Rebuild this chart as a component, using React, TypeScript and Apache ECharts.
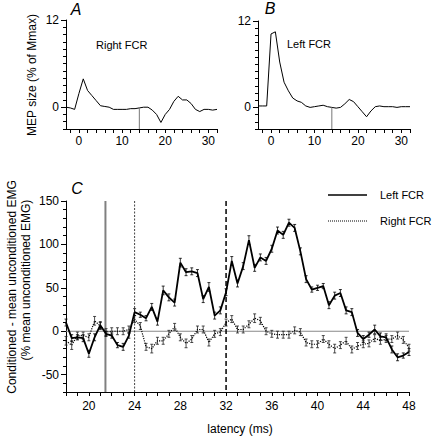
import React, { useEffect, useRef } from "react";
import * as echarts from "echarts";

// Panels A & B: MEP size (% of Mmax) vs latency (ms)
const mepLatency = [-3, -2, -1, 0, 1, 2, 3, 4, 5, 6, 7, 8, 9, 10, 11, 12, 13, 14, 15, 16, 17, 18, 19, 20, 21, 22, 23, 24, 25, 26, 27, 28, 29, 30, 31, 32];
const mepRightFCR = [0, -0.1, -0.3, 1.9, 3.9, 2.3, 1.6, 0.9, 0.2, 0.1, 0, -0.3, -0.3, -0.3, -0.3, -0.2, -0.2, -0.1, 0, 0, -0.4, -1.0, -2.1, -1.0, -0.3, 0.8, 1.5, 1.0, 1.0, 0.5, -0.3, -0.6, -0.3, -0.3, -0.4, -0.3];
const mepLeftFCR = [0.2, 0.2, 0.2, 10.2, 10.5, 6.3, 3.5, 2.3, 1.3, 0.9, 0.7, 0.2, 0, 0.1, 0.2, 0.3, 0.1, 0, -0.1, 0, 0.5, 1.1, 0.8, 0.1, -0.6, -1.3, -0.5, 0.1, 0.2, 0.1, 0.1, 0.1, 0, 0.1, 0.1, 0.1];
const mepMarker = 14;

// Panel C: conditioned - mean unconditioned EMG
const emgLatency = [18, 18.5, 19, 19.5, 20, 20.5, 21, 21.5, 22, 22.5, 23, 23.5, 24, 24.5, 25, 25.5, 26, 26.5, 27, 27.5, 28, 28.5, 29, 29.5, 30, 30.5, 31, 31.5, 32, 32.5, 33, 33.5, 34, 34.5, 35, 35.5, 36, 36.5, 37, 37.5, 38, 38.5, 39, 39.5, 40, 40.5, 41, 41.5, 42, 42.5, 43, 43.5, 44, 44.5, 45, 45.5, 46, 46.5, 47, 47.5, 48];
const emgLeftFCR = [10, -8, -7, -8, -26, -7, 7, -3, -5, -16, -18, -5, 22, 19, 15, 28, 11, 47, 39, 33, 79, 68, 69, 67, 37, 51, 18, 24, 45, 81, 55, 75, 105, 73, 85, 81, 95, 116, 111, 125, 119, 92, 60, 48, 50, 52, 30, 41, 44, 24, 22, -2, -9, -4, 2, -6, -7, -21, -30, -28, -24];
const emgLeftErr = [4, 4, 3, 4, 4, 4, 4, 3, 3, 3, 4, 3, 4, 3, 3, 4, 4, 5, 4, 4, 5, 4, 4, 4, 4, 5, 4, 4, 4, 5, 4, 4, 5, 4, 4, 4, 4, 4, 4, 4, 4, 4, 4, 3, 3, 3, 4, 4, 4, 4, 4, 4, 4, 3, 5, 4, 4, 4, 4, 3, 4];
const emgRightFCR = [-11, -16, -5, -5, -7, 12, 6, -1, 0, 0, 0, 2, 14, 6, -18, -20, -11, -11, -3, 5, -7, -14, -9, 2, 2, -13, -3, -1, 10, 14, 2, 2, 8, 15, 12, 0, -3, -4, -4, -4, 1, -1, -13, -15, -15, -9, -15, -20, -16, -11, -21, -17, -15, -14, -8, -11, -9, -9, -5, -10, -19];
const emgRightErr = [5, 5, 4, 4, 4, 5, 4, 4, 4, 4, 4, 4, 4, 4, 4, 5, 4, 4, 4, 4, 4, 5, 4, 4, 4, 4, 4, 4, 4, 4, 4, 4, 4, 5, 4, 4, 4, 4, 4, 4, 4, 4, 4, 4, 4, 4, 4, 5, 4, 4, 4, 4, 4, 4, 4, 4, 4, 4, 4, 4, 4];
const markerSolid = 21.45;
const markerDotted = 24;
const markerDashed = 32;

const mepXTicks = [-2, 0, 2, 4, 6, 8, 10, 12, 14, 16, 18, 20, 22, 24, 26, 28, 30, 32];
const mepXLabels = [0, 10, 20, 30];
const mepYTicks = [-3, -2, -1, 0, 1, 2, 3, 4, 5, 6, 7, 8, 9, 10, 11, 12];
const mepYLabels = [0, 12];
const emgXTicks = [18, 19, 20, 21, 22, 23, 24, 25, 26, 27, 28, 29, 30, 31, 32, 33, 34, 35, 36, 37, 38, 39, 40, 41, 42, 43, 44, 45, 46, 47, 48];
const emgXLabels = [20, 24, 28, 32, 36, 40, 44, 48];
const emgYTicks = [-70, -60, -50, -40, -30, -20, -10, 0, 10, 20, 30, 40, 50, 60, 70, 80, 90, 100, 110, 120, 130, 140, 150];
const emgYLabels = [-50, 0, 50, 100, 150];

const FONT = "'Liberation Sans', Arial, Helvetica, sans-serif";

export default function App() {
  const ref = useRef<HTMLDivElement>(null);
  useEffect(() => {
    if (!ref.current) return;
    const chart = echarts.init(ref.current, undefined, { renderer: "svg" });
    const zip = (xs: number[], ys: number[]) => xs.map((x, i) => [x, ys[i]]);
    const zip3 = (xs: number[], ys: number[], es: number[]) => xs.map((x, i) => [x, ys[i], es[i]]);

    const xAx = (grid: number, min: number, max: number, ticks: number[], labels: number[], margin: number) => ({
      type: "value", gridIndex: grid, min, max, position: "bottom",
      axisLine: { show: true, onZero: false, lineStyle: { color: "#000", width: 1 } },
      axisTick: { show: true, customValues: ticks, length: 4, lineStyle: { color: "#000", width: 1 } },
      axisLabel: { show: true, customValues: labels, color: "#000", fontSize: 12, fontFamily: FONT, margin },
      splitLine: { show: false },
    });
    const yAx = (grid: number, min: number, max: number, ticks: number[], labels: number[], len: number, main: boolean) => ({
      type: "value", gridIndex: grid, min, max, position: "left",
      axisLine: { show: main, onZero: false, lineStyle: { color: "#000", width: 1 } },
      axisTick: { show: true, customValues: ticks, length: len, lineStyle: { color: "#000", width: 1 } },
      axisLabel: { show: main, customValues: labels, color: "#000", fontSize: 12, fontFamily: FONT, margin: 7 },
      splitLine: { show: false },
    });

    const errBar = (color: string) => (params: any, api: any) => {
      const x = api.value(0), y = api.value(1), e = api.value(2);
      const t = api.coord([x, y + e]);
      const b = api.coord([x, y - e]);
      const w = 1.5;
      const st = { stroke: color, lineWidth: 0.8 };
      return {
        type: "group",
        children: [
          { type: "line", shape: { x1: t[0], y1: t[1], x2: b[0], y2: b[1] }, style: st },
          { type: "line", shape: { x1: t[0] - w, y1: t[1], x2: t[0] + w, y2: t[1] }, style: st },
          { type: "line", shape: { x1: b[0] - w, y1: b[1], x2: b[0] + w, y2: b[1] }, style: st },
        ],
      };
    };

    const plain = (xi: number, yi: number, data: number[][], lineStyle: any, z = 2) => ({
      type: "line", xAxisIndex: xi, yAxisIndex: yi, data, symbol: "none", silent: true,
      lineStyle, z,
    });

    const txt = (text: string, x: number, y: number, extra: any = {}) => ({
      type: "text", x, y,
      style: { text, fill: "#000", font: `12px ${FONT}`, textAlign: "center", textVerticalAlign: "middle", ...extra },
    });

    chart.setOption({
      animation: false,
      backgroundColor: "#fff",
      grid: [
        { left: 66, top: 20, width: 151, height: 109, outerBoundsMode: "none" },
        { left: 258, top: 21, width: 152, height: 108, outerBoundsMode: "none" },
        { left: 66, top: 201, width: 343, height: 191, outerBoundsMode: "none" },
      ],
      xAxis: [
        xAx(0, -3, 32, mepXTicks, mepXLabels, 6),
        xAx(1, -3, 32, mepXTicks, mepXLabels, 6),
        xAx(2, 18, 48, emgXTicks, emgXLabels, 8),
      ],
      yAxis: [
        yAx(0, -3, 12, mepYLabels, mepYLabels, 5, true),
        yAx(1, -3, 12, mepYLabels, mepYLabels, 5, true),
        yAx(2, -70, 150, emgYLabels, emgYLabels, 5, true),
        yAx(0, -3, 12, mepYTicks, [], 3, false),
        yAx(1, -3, 12, mepYTicks, [], 3, false),
        yAx(2, -70, 150, emgYTicks, [], 3, false),
      ],
      series: [
        plain(0, 0, zip(mepLatency, mepRightFCR), { color: "#000", width: 1 }),
        plain(0, 0, [[mepMarker, 0], [mepMarker, -3]], { color: "#777", width: 1 }),
        plain(1, 1, zip(mepLatency, mepLeftFCR), { color: "#000", width: 1 }),
        plain(1, 1, [[mepMarker, 0], [mepMarker, -3]], { color: "#777", width: 1 }),
        plain(2, 2, [[18, 0], [48, 0]], { color: "#888", width: 1.2 }, 1),
        plain(2, 2, [[markerSolid, 150], [markerSolid, -70]], { color: "#808080", width: 2 }, 1),
        plain(2, 2, [[markerDotted, 150], [markerDotted, -70]], { color: "#444", width: 1, type: [2, 1.5] }, 1),
        plain(2, 2, [[markerDashed, 150], [markerDashed, -70]], { color: "#000", width: 1.5, type: [5, 3] }, 1),
        plain(2, 2, zip(emgLatency, emgRightFCR), { color: "#000", width: 1.2, type: [1.2, 1.2] }, 3),
        plain(2, 2, zip(emgLatency, emgLeftFCR), { color: "#000", width: 1.8 }, 4),
        {
          type: "custom", xAxisIndex: 2, yAxisIndex: 2, silent: true, z: 3,
          renderItem: errBar("#222"), encode: { x: 0, y: 1 },
          data: zip3(emgLatency, emgRightFCR, emgRightErr),
        },
        {
          type: "custom", xAxisIndex: 2, yAxisIndex: 2, silent: true, z: 5,
          renderItem: errBar("#000"), encode: { x: 0, y: 1 },
          data: zip3(emgLatency, emgLeftFCR, emgLeftErr),
        },
      ],
      graphic: [
        txt("A", 76, 9, { font: `italic 16px ${FONT}` }),
        txt("B", 270, 8, { font: `italic 16px ${FONT}` }),
        txt("C", 77, 188, { font: `italic 16px ${FONT}` }),
        txt("Right FCR", 96, 45, { textAlign: "left", font: `11px ${FONT}` }),
        txt("Left FCR", 287, 44, { textAlign: "left", font: `11px ${FONT}` }),
        { ...txt("MEP size (% of Mmax)", 32, 75), rotation: Math.PI / 2 },
        { ...txt("Conditioned - mean unconditioned EMG", 12, 287), rotation: Math.PI / 2 },
        { ...txt("(% mean unconditioned EMG)", 26, 280), rotation: Math.PI / 2 },
        txt("latency (ms)", 240, 429),
        { type: "line", shape: { x1: 328, y1: 195, x2: 367, y2: 195 }, style: { stroke: "#000", lineWidth: 1.6 } },
        txt("Left FCR", 380, 195, { textAlign: "left", font: `11px ${FONT}` }),
        { type: "line", shape: { x1: 328, y1: 221, x2: 367, y2: 221 }, style: { stroke: "#000", lineWidth: 1, lineDash: [1, 1] } },
        txt("Right FCR", 380, 221, { textAlign: "left", font: `11px ${FONT}` }),
      ],
    });
    return () => chart.dispose();
  }, []);
  return <div ref={ref} style={{ position: "fixed", left: 0, top: 0, width: 435, height: 436 }} />;
}
